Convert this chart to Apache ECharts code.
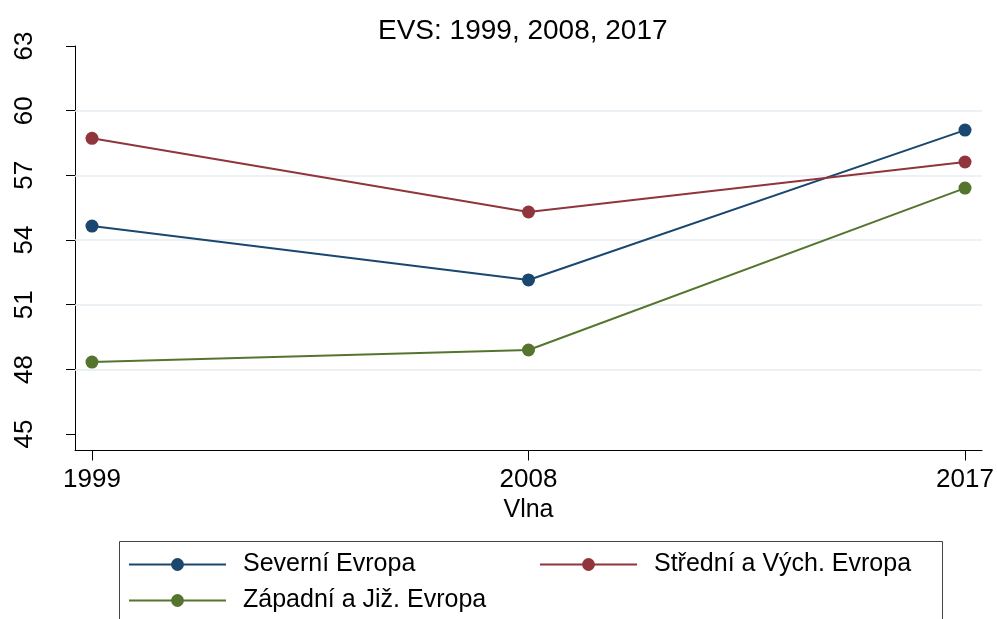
<!DOCTYPE html>
<html>
<head>
<meta charset="utf-8">
<script src="https://cdn.jsdelivr.net/npm/echarts@6/dist/echarts.min.js"></script>
<style>html,body{margin:0;padding:0;background:#fff;}#c{width:997px;height:619px;}</style>
</head>
<body>
<div id="c"></div>
<script>
const years = [1999, 2008, 2017];
const seriesNames = ['Severní Evropa', 'Střední a Vých. Evropa', 'Západní a Již. Evropa'];
const severni = [54.65, 52.15, 59.1];
const stredni = [58.72, 55.3, 57.62];
const zapadni = [48.34, 48.9, 56.41];
const yTicks = [45, 48, 51, 54, 57, 60, 63];
const gridValues = [48, 51, 54, 57, 60];
const colors = ['#1a476f', '#90353b', '#55752f'];
const FONT = '"Liberation Sans", Arial, sans-serif';

const chart = echarts.init(document.getElementById('c'), null, {renderer: 'canvas'});
function mk(name, vals, color) {
  return {
    name: name, type: 'line', z: 3,
    data: years.map((y, i) => [y, vals[i]]),
    symbol: 'circle', symbolSize: 13,
    itemStyle: {color: color},
    lineStyle: {color: color, width: 2},
    emphasis: {disabled: true},
    animation: false
  };
}
function legend(name, left, top) {
  return {
    data: [name], left: left, top: top, padding: 0,
    itemWidth: 97, itemHeight: 16, selectedMode: false,
    textStyle: {fontFamily: FONT, fontSize: 25, color: '#000', padding: [0, 0, 0, 12]}
  };
}
chart.setOption({
  backgroundColor: '#fff',
  animation: false,
  title: {
    text: 'EVS: 1999, 2008, 2017', left: 378, top: 17, padding: 0,
    textStyle: {fontFamily: FONT, fontSize: 28, fontWeight: 'normal', color: '#000'}
  },
  legend: [
    legend(seriesNames[0], 128, 552),
    legend(seriesNames[1], 539, 552),
    legend(seriesNames[2], 128, 588)
  ],
  graphic: [{
    type: 'rect', left: 117, top: 539, z: 0,
    shape: {width: 823, height: 120},
    style: {fill: 'none', stroke: '#444', lineWidth: 1}
  }],
  grid: {left: 75, right: 15, top: 46, bottom: 168.5, containLabel: false, outerBoundsMode: 'none'},
  xAxis: {
    type: 'value', min: 1998.65, max: 2017.35,
    name: 'Vlna', nameLocation: 'middle', nameGap: 47,
    nameTextStyle: {fontFamily: FONT, fontSize: 25, color: '#000'},
    axisLine: {show: true, lineStyle: {color: '#000', width: 1}},
    axisTick: {show: true, length: 10, customValues: years, lineStyle: {color: '#000'}},
    axisLabel: {customValues: years, formatter: v => String(v), margin: 16, fontFamily: FONT, fontSize: 26, color: '#000'},
    splitLine: {show: false}
  },
  yAxis: {
    type: 'value', min: 44.24, max: 63,
    axisLine: {show: true, lineStyle: {color: '#000', width: 1}},
    axisTick: {show: true, length: 9, customValues: yTicks, lineStyle: {color: '#000'}},
    axisLabel: {customValues: yTicks, rotate: 90, margin: 37, fontFamily: FONT, fontSize: 26, color: '#000'},
    splitLine: {show: false}
  },
  series: [
    {
      name: 'grid', type: 'line', data: [], z: 1, silent: true,
      markLine: {
        silent: true, symbol: ['none', 'none'], z: 1, animation: false,
        label: {show: false},
        lineStyle: {color: '#e4edf0', width: 1.5, type: 'solid'},
        emphasis: {disabled: true},
        data: gridValues.map(v => ({yAxis: v}))
      }
    },
    mk(seriesNames[0], severni, colors[0]),
    mk(seriesNames[1], stredni, colors[1]),
    mk(seriesNames[2], zapadni, colors[2])
  ]
});
</script>
</body>
</html>
